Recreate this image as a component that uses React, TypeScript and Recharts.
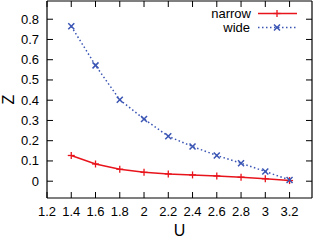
import React from 'react';
import { LineChart, Line, XAxis, YAxis } from 'recharts';

const uValues = [1.4, 1.6, 1.8, 2.0, 2.2, 2.4, 2.6, 2.8, 3.0, 3.2];
const narrowValues = [0.127, 0.085, 0.059, 0.044, 0.036, 0.031, 0.026, 0.02, 0.012, 0.003];
const wideValues = [0.765, 0.572, 0.402, 0.307, 0.222, 0.171, 0.127, 0.089, 0.048, 0.006];
const xTicks = [1.2, 1.4, 1.6, 1.8, 2.0, 2.2, 2.4, 2.6, 2.8, 3.0, 3.2];
const yTicks = [0, 0.1, 0.2, 0.3, 0.4, 0.5, 0.6, 0.7, 0.8];
const seriesNames = ['narrow', 'wide'];

const data = uValues.map((u, i) => ({ u, narrow: narrowValues[i], wide: wideValues[i] }));

const RED = '#e8141c';
const BLUE = '#3a55b4';
const FONT = '"Liberation Sans", Arial, Helvetica, sans-serif';
const fmt = (v: number) => String(Number(v.toFixed(1)));

const BottomTick = (p: any) => (
  <g>
    <line x1={p.x} y1={p.y} x2={p.x} y2={p.y - 6} stroke="#000" strokeWidth={1} />
    <text x={p.x} y={p.y + 18} textAnchor="middle" fontSize={13} fontFamily={FONT} fill="#000">
      {fmt(p.payload.value)}
    </text>
  </g>
);
const TopTick = (p: any) => (
  <line x1={p.x} y1={p.y} x2={p.x} y2={p.y + 6} stroke="#000" strokeWidth={1} />
);
const LeftTick = (p: any) => (
  <g>
    <line x1={p.x} y1={p.y} x2={p.x + 6} y2={p.y} stroke="#000" strokeWidth={1} />
    <text x={p.x - 8} y={p.y + 4.5} textAnchor="end" fontSize={13} fontFamily={FONT} fill="#000">
      {fmt(p.payload.value)}
    </text>
  </g>
);
const RightTick = (p: any) => (
  <line x1={p.x} y1={p.y} x2={p.x - 6} y2={p.y} stroke="#000" strokeWidth={1} />
);

const ZLabel = (p: any) => {
  const vb = p.viewBox || {};
  const cy = (vb.y || 0) + (vb.height || 0) / 2;
  return (
    <text x={14} y={cy} transform={`rotate(-90, 14, ${cy})`} textAnchor="middle" fontSize={16} fontFamily={FONT} fill="#000">
      Z
    </text>
  );
};

const PlusDot = (p: any) => {
  const { cx, cy } = p;
  if (cx == null || cy == null) return null;
  return (
    <g key={`p${p.index}`}>
      <line x1={cx - 3.5} y1={cy} x2={cx + 3.5} y2={cy} stroke={RED} strokeWidth={1.3} />
      <line x1={cx} y1={cy - 3.5} x2={cx} y2={cy + 3.5} stroke={RED} strokeWidth={1.3} />
    </g>
  );
};
const CrossDot = (p: any) => {
  const { cx, cy } = p;
  if (cx == null || cy == null) return null;
  return (
    <g key={`x${p.index}`}>
      <line x1={cx - 3} y1={cy - 3} x2={cx + 3} y2={cy + 3} stroke={BLUE} strokeWidth={1.5} />
      <line x1={cx - 3} y1={cy + 3} x2={cx + 3} y2={cy - 3} stroke={BLUE} strokeWidth={1.5} />
    </g>
  );
};

const LegendBox = () => (
  <svg width={110} height={36} style={{ display: 'block' }}>
    <text x={51} y={18} textAnchor="end" fontSize={13} fontFamily={FONT} fill="#000">{seriesNames[0]}</text>
    <line x1={58} y1={13.5} x2={97} y2={13.5} stroke={RED} strokeWidth={1.5} />
    <line x1={73.5} y1={13.5} x2={80.5} y2={13.5} stroke={RED} strokeWidth={1.3} />
    <line x1={77} y1={10} x2={77} y2={17} stroke={RED} strokeWidth={1.3} />
    <text x={50} y={32} textAnchor="end" fontSize={13} fontFamily={FONT} fill="#000">{seriesNames[1]}</text>
    <line x1={58} y1={27.5} x2={96} y2={27.5} stroke={BLUE} strokeWidth={1.5} strokeDasharray="1.5 2.5" />
    <line x1={74} y1={24.5} x2={80} y2={30.5} stroke={BLUE} strokeWidth={1.5} />
    <line x1={74} y1={30.5} x2={80} y2={24.5} stroke={BLUE} strokeWidth={1.5} />
  </svg>
);

export default function App() {
  return (
    <div style={{ position: 'absolute', left: 0, top: 0, width: 314, height: 244, background: '#fff' }}>
      <LineChart width={314} height={244} data={data} margin={{ top: 0, right: 1, bottom: 0, left: 0 }}>
        <XAxis
          xAxisId="b"
          dataKey="u"
          type="number"
          domain={[1.2, 3.385]}
          ticks={xTicks}
          allowDataOverflow
          height={46}
          tickSize={0}
          tickMargin={0}
          tickLine={false}
          axisLine={{ stroke: '#000', strokeWidth: 1.2 }}
          tick={<BottomTick />}
          interval={0}
          label={{ value: 'U', position: 'insideBottom', offset: 8, fontSize: 16, fontFamily: FONT, fill: '#000' }}
        />
        <XAxis
          xAxisId="t"
          dataKey="u"
          type="number"
          orientation="top"
          domain={[1.2, 3.385]}
          ticks={xTicks}
          allowDataOverflow
          height={1}
          tickSize={0}
          tickMargin={0}
          tickLine={false}
          axisLine={{ stroke: '#000', strokeWidth: 1.2 }}
          tick={<TopTick />}
          interval={0}
        />
        <YAxis
          yAxisId="l"
          type="number"
          domain={[-0.083, 0.89]}
          ticks={yTicks}
          allowDataOverflow
          width={47}
          tickSize={0}
          tickMargin={0}
          tickLine={false}
          axisLine={{ stroke: '#000', strokeWidth: 1.2 }}
          tick={<LeftTick />}
          interval={0}
          label={<ZLabel />}
        />
        <YAxis
          yAxisId="r"
          type="number"
          orientation="right"
          domain={[-0.083, 0.89]}
          ticks={yTicks}
          allowDataOverflow
          width={1}
          tickSize={0}
          tickMargin={0}
          tickLine={false}
          axisLine={{ stroke: '#000', strokeWidth: 1.2 }}
          tick={<RightTick />}
          interval={0}
        />
        <Line
          xAxisId="b"
          yAxisId="l"
          dataKey="narrow"
          type="linear"
          stroke={RED}
          strokeWidth={1.5}
          dot={<PlusDot />}
          activeDot={false}
          isAnimationActive={false}
        />
        <Line
          xAxisId="b"
          yAxisId="l"
          dataKey="wide"
          type="linear"
          stroke={BLUE}
          strokeWidth={1.5}
          strokeDasharray="1.5 2.5"
          dot={<CrossDot />}
          activeDot={false}
          isAnimationActive={false}
        />
      </LineChart>
      <div style={{ position: 'absolute', left: 200, top: 0 }}>
        <LegendBox />
      </div>
    </div>
  );
}
